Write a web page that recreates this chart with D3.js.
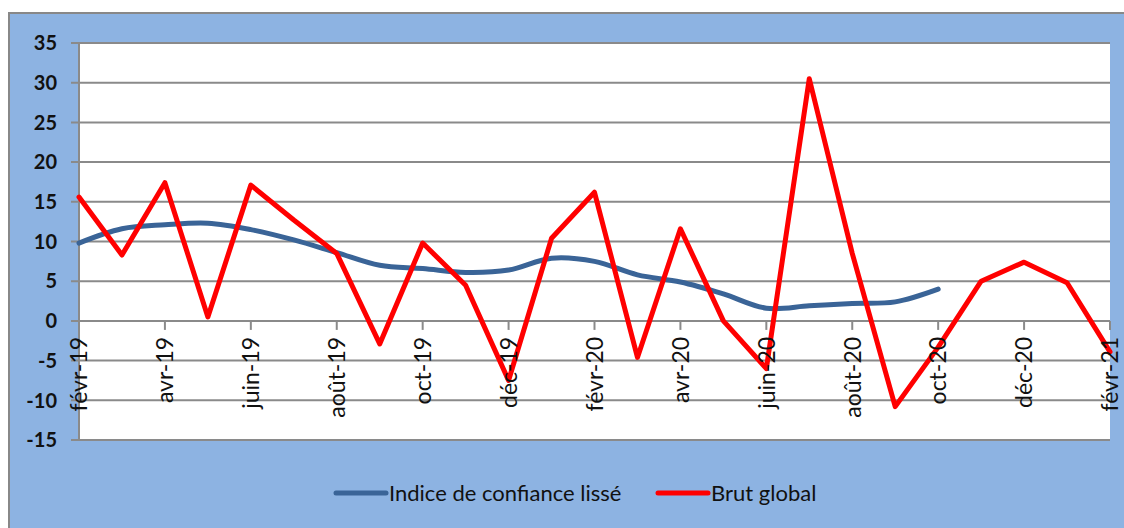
<!DOCTYPE html>
<html>
<head>
<meta charset="utf-8">
<script src="https://cdn.jsdelivr.net/npm/d3@7"></script>
<style>
  body { margin: 0; background: #fff; }
</style>
</head>
<body>
<div id="chart"></div>
<script>
// months, one point per month (only every other month is labelled)
var months = ["févr-19","mars-19","avr-19","mai-19","juin-19","juil-19","août-19","sept-19",
  "oct-19","nov-19","déc-19","janv-20","févr-20","mars-20","avr-20","mai-20","juin-20",
  "juil-20","août-20","sept-20","oct-20","nov-20","déc-20","janv-21","févr-21"];
var tickLabels = ["févr-19","avr-19","juin-19","août-19","oct-19","déc-19","févr-20",
  "avr-20","juin-20","août-20","oct-20","déc-20","févr-21"];
var yTicks = [-15, -10, -5, 0, 5, 10, 15, 20, 25, 30, 35];

var indiceLisse = [9.8, 11.6, 12.1, 12.3, 11.5, 10.2, 8.6, 7.0, 6.6, 6.1, 6.4, 7.9, 7.5,
  5.8, 4.9, 3.4, 1.6, 1.9, 2.2, 2.4, 4.0];
var brutGlobal = [15.6, 8.3, 17.4, 0.5, 17.1, 12.7, 8.5, -2.9, 9.8, 4.5, -7.5, 10.4, 16.2,
  -4.6, 11.6, 0, -6.0, 30.5, 8.5, -10.8, -3.3, 5.0, 7.4, 4.8, -3.9];

var seriesNames = ["Indice de confiance lissé", "Brut global"];
var seriesColors = ["#3a6497", "#ff0000"];

var W = 1124, H = 528;
var plot = {left: 79, right: 1110, top: 43, bottom: 440};
var font = "Lato, 'Open Sans', sans-serif";

var svg = d3.select("#chart").append("svg")
  .attr("width", W)
  .attr("height", H);

// chart area background + border
svg.append("rect")
  .attr("x", 9).attr("y", 13)
  .attr("width", W + 20).attr("height", H + 20)
  .style("fill", "#8db3e2")
  .style("stroke", "#888")
  .style("stroke-width", 2);

// plot area
svg.append("rect")
  .attr("x", plot.left).attr("y", plot.top)
  .attr("width", plot.right - plot.left)
  .attr("height", plot.bottom - plot.top)
  .style("fill", "#fff");

var x = d3.scalePoint()
  .domain(months)
  .range([plot.left, plot.right]);

var y = d3.scaleLinear()
  .domain([-15, 35])
  .range([plot.bottom, plot.top]);

// horizontal gridlines
svg.append("g")
  .selectAll("line")
  .data(yTicks)
  .enter()
  .append("line")
    .attr("x1", plot.left - 8)
    .attr("x2", plot.right)
    .attr("y1", d => y(d))
    .attr("y2", d => y(d))
    .style("stroke", "#8a8a8a")
    .style("stroke-width", 2);

// y axis line
svg.append("line")
  .attr("x1", plot.left).attr("x2", plot.left)
  .attr("y1", plot.top).attr("y2", plot.bottom)
  .style("stroke", "#8a8a8a")
  .style("stroke-width", 2);

// y labels
svg.append("g")
  .selectAll("text")
  .data(yTicks)
  .enter()
  .append("text")
    .attr("x", 57)
    .attr("y", d => y(d))
    .attr("dy", "0.36em")
    .attr("text-anchor", "end")
    .style("font-family", font)
    .style("font-weight", "bold")
    .style("font-size", "20px")
    .style("fill", "#111")
    .text(d => d);

// x ticks on the zero line
svg.append("g")
  .selectAll("line")
  .data(tickLabels)
  .enter()
  .append("line")
    .attr("x1", d => x(d)).attr("x2", d => x(d))
    .attr("y1", y(0)).attr("y2", y(0) + 9)
    .style("stroke", "#8a8a8a")
    .style("stroke-width", 2);

// lines
var line = d3.line()
  .x((d, i) => x(months[i]))
  .y(d => y(d));

svg.append("path")
  .datum(indiceLisse)
  .attr("d", line.curve(d3.curveCatmullRom))
  .style("fill", "none")
  .style("stroke", seriesColors[0])
  .style("stroke-width", 5)
  .style("stroke-linecap", "round");

svg.append("path")
  .datum(brutGlobal)
  .attr("d", line.curve(d3.curveLinear))
  .style("fill", "none")
  .style("stroke", seriesColors[1])
  .style("stroke-width", 5)
  .style("stroke-linejoin", "round")
  .style("stroke-linecap", "round");

// x labels (rotated, on top of the lines)
svg.append("g")
  .selectAll("text")
  .data(tickLabels)
  .enter()
  .append("text")
    .attr("transform", d => "translate(" + x(d) + "," + (y(0) + 16) + ") rotate(-90)")
    .attr("dy", "0.36em")
    .attr("text-anchor", "end")
    .style("font-family", font)
    .style("font-size", "23px")
    .style("fill", "#111")
    .text(d => d);

// legend
var legendX = [336, 658];
var legend = svg.append("g")
  .selectAll("g")
  .data(seriesNames)
  .enter()
  .append("g")
    .attr("transform", (d, i) => "translate(" + legendX[i] + ",493)");

legend.append("line")
  .attr("x1", 0).attr("x2", 50)
  .style("stroke", (d, i) => seriesColors[i])
  .style("stroke-width", 5)
  .style("stroke-linecap", "round");

legend.append("text")
  .attr("x", 53)
  .attr("dy", "0.36em")
  .style("font-family", font)
  .style("font-size", "22px")
  .style("fill", "#111")
  .text(d => d);
</script>
</body>
</html>
